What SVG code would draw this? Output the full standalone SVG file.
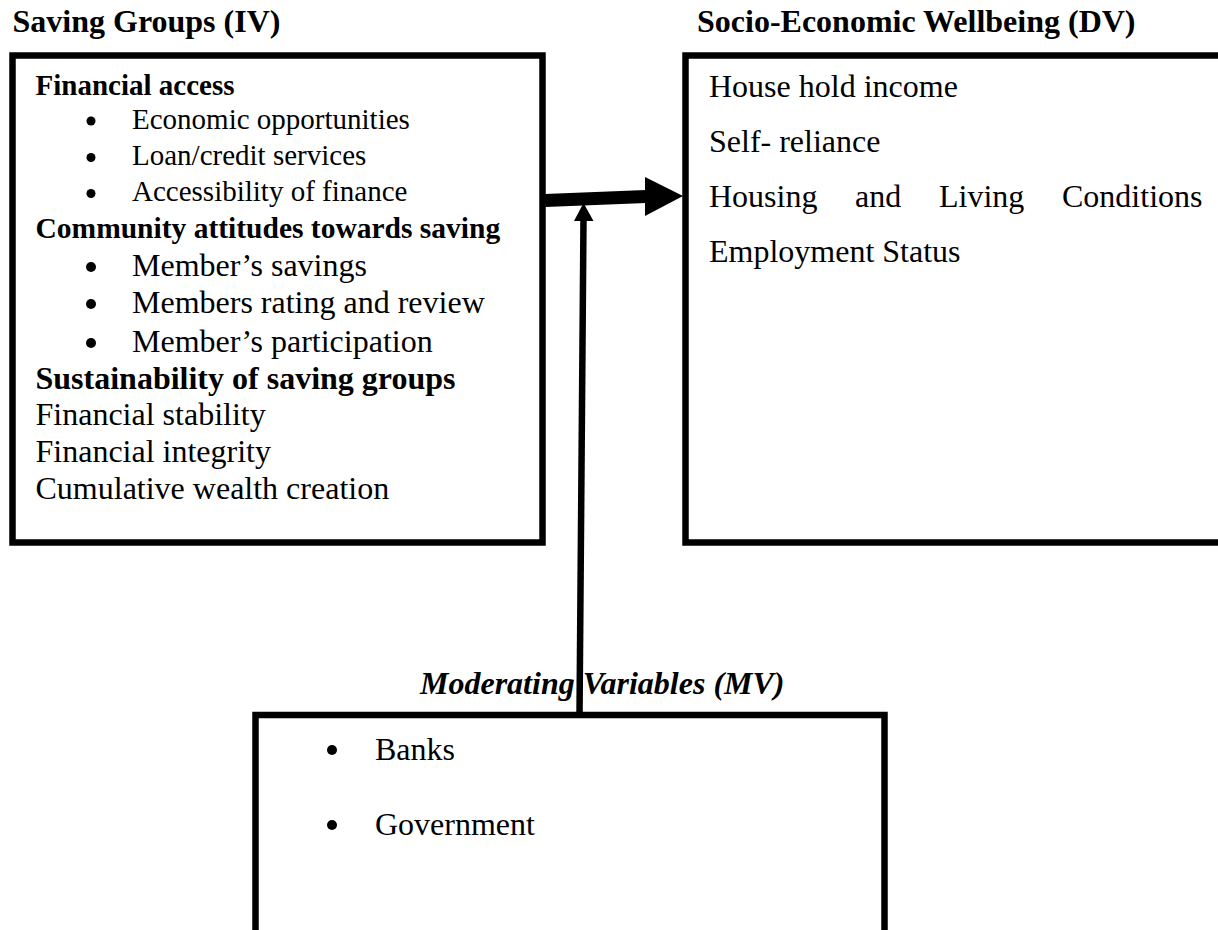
<svg xmlns="http://www.w3.org/2000/svg" width="1218" height="930" viewBox="0 0 1218 930">
<style>
.t{font-family:"Liberation Serif","Times New Roman",serif;fill:#000}
.b{font-weight:bold}
.box{fill:#fff;stroke:#000;stroke-width:6.5}
.s29{font-size:29px}
.s32{font-size:32px}
</style>
<rect width="1218" height="930" fill="#fff"/>
<g id="iv">
<text class="t b s32" x="12.5" y="32">Saving Groups (IV)</text>
<rect class="box" x="12.5" y="55.5" width="530" height="487"/>
<text class="t b s29" x="35.5" y="95">Financial access</text>
<circle cx="91" cy="121" r="4.5"/><text class="t s29" x="132" y="128.5">Economic opportunities</text>
<circle cx="91" cy="157.5" r="4.5"/><text class="t s29" x="132" y="165">Loan/credit services</text>
<circle cx="91" cy="193.5" r="4.5"/><text class="t s29" x="132" y="201">Accessibility of finance</text>
<text class="t b" font-size="29.5" x="35.5" y="238">Community attitudes towards saving</text>
<circle cx="91" cy="267" r="5"/><text class="t s32" x="132" y="276">Member’s savings</text>
<circle cx="91" cy="304" r="5"/><text class="t s32" x="132" y="313">Members rating and review</text>
<circle cx="91" cy="343" r="5"/><text class="t s32" x="132" y="352">Member’s participation</text>
<text class="t b s32" x="35.5" y="388.5">Sustainability of saving groups</text>
<text class="t s32" x="35.5" y="425">Financial stability</text>
<text class="t s32" x="35.5" y="462">Financial integrity</text>
<text class="t s32" x="35.5" y="498.5">Cumulative wealth creation</text>
</g>
<g id="dv">
<text class="t b s32" x="697" y="32">Socio-Economic Wellbeing (DV)</text>
<rect class="box" x="685.5" y="55.5" width="545" height="487"/>
<text class="t s32" x="709" y="97">House hold income</text>
<text class="t s32" x="709" y="152">Self- reliance</text>
<text class="t s32" y="207"><tspan x="709">Housing</tspan><tspan x="855">and</tspan><tspan x="939">Living</tspan><tspan x="1062">Conditions</tspan></text>
<text class="t s32" x="709" y="262">Employment Status</text>
</g>
<g id="mv">
<rect class="box" x="255.5" y="715" width="629" height="230"/>
<text class="t b s32" x="420" y="694" font-style="italic">Moderating Variables (MV)</text>
<circle cx="332" cy="750" r="5"/><text class="t s32" x="375" y="759.5">Banks</text>
<circle cx="332" cy="825" r="5"/><text class="t s32" x="375" y="834.5">Government</text>
</g>
<g id="connectors">
<path d="M545 200.5 L646 196.5" stroke="#000" stroke-width="13" fill="none"/>
<polygon points="645,177 683,196 645,216" fill="#000"/>
<path d="M579.5 715 L583.5 219" stroke="#000" stroke-width="6.5" fill="none"/>
<polygon points="574,221 583.5,203 593.5,221" fill="#000"/>
</g>
</svg>
